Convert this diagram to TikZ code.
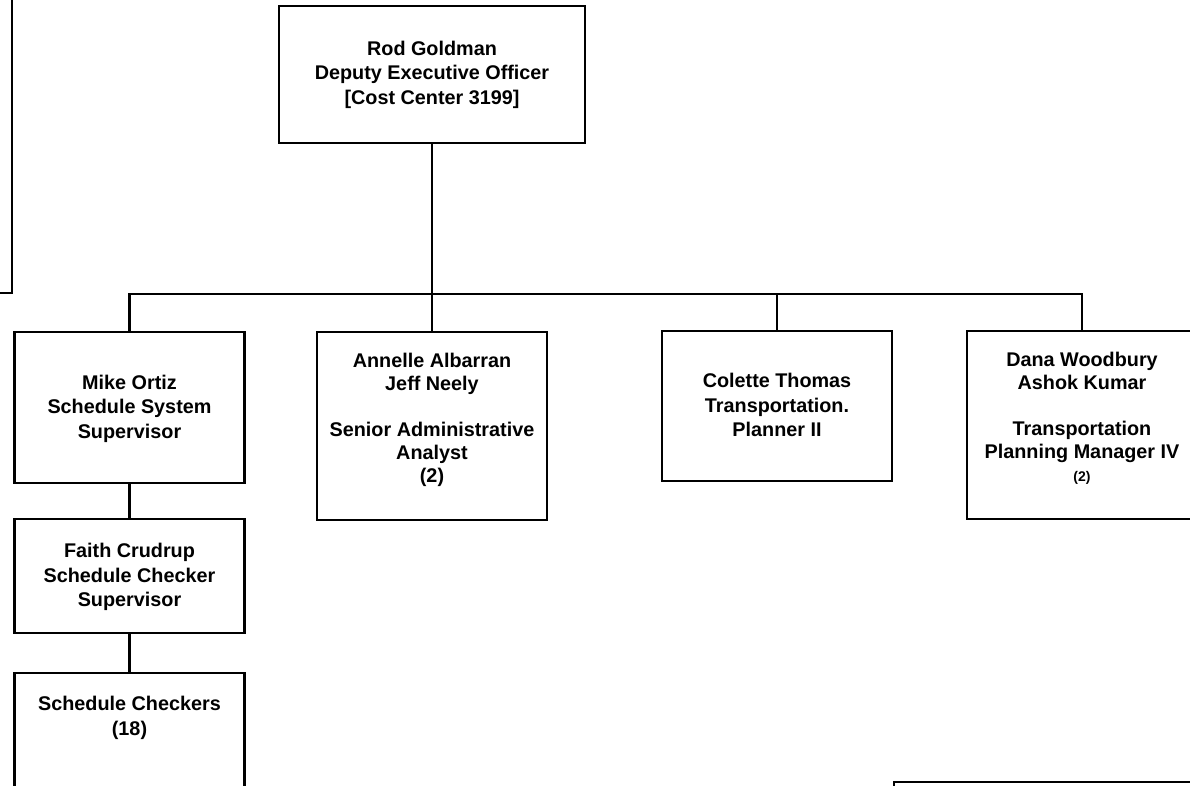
\documentclass[tikz,border=0pt]{standalone}
\usepackage{fontspec}
\setmainfont{Liberation Sans}
\begin{document}
\begin{tikzpicture}[x=1pt,y=-1pt,
  box/.style={draw, line width=2.2pt, minimum width=230pt, inner sep=0pt},
  lbl/.style={font=\fontsize{19.8}{24.5}\selectfont\bfseries, align=center, inner sep=0pt},
  lbltight/.style={font=\fontsize{19.8}{23}\selectfont\bfseries, align=center, inner sep=0pt},
  conn/.style={line width=2.2pt}]
\useasboundingbox (0,0) rectangle (1190,786);
\clip (0,0) rectangle (1190,786);

% boxes
\node[box, minimum width=306pt, minimum height=137pt] (top) at (432,74.5) {};
\node[box, minimum height=151pt] (mike) at (129.5,407.5) {};
\node[box, minimum height=188pt] (annelle) at (432,426) {};
\node[box, minimum height=150pt] (colette) at (777,406) {};
\node[box, minimum height=188pt] (dana) at (1082,425) {};
\node[box, minimum height=114pt] (faith) at (129.5,576) {};
\node[box, minimum height=200pt, anchor=north] (chk) at (129.5,672) {};

% texts
\node[lbl] (topT) at (top.center) {Rod Goldman\\Deputy Executive Officer\\{[}Cost Center 3199{]}};
\node[lbl] (mikeT) at (129.5,408.5) {Mike Ortiz\\Schedule System\\Supervisor};
\node[lbl] (faithT) at (129.5,577) {Faith Crudrup\\Schedule Checker\\Supervisor};
\node[lbl] (chkT) at (129.5,718) {Schedule Checkers\\(18)};
\node[lbltight] (annelleT) at (432,420) {Annelle Albarran\\Jeff Neely\\[23pt]Senior Administrative\\Analyst\\(2)};
\node[lbl] (coletteT) at (777,405) {Colette Thomas\\Transportation.\\Planner II};
\node[lbltight] (danaT) at (1082,418) {Dana Woodbury\\Ashok Kumar\\[23pt]Transportation\\Planning Manager IV\\{\fontsize{14}{23}\selectfont (2)}};

% connectors
\coordinate (bus) at (0,294);
\draw[conn] (top.south) -- (top.south |- bus);
\draw[conn] (mike.north) -- (mike.north |- bus) -- (dana.north |- bus) -- (dana.north);
\draw[conn] (annelle.north) -- (annelle.north |- bus);
\draw[conn] (colette.north) -- (colette.north |- bus);
\draw[conn] (mike.south) -- (faith.north);
\draw[conn] (faith.south) -- (chk.north);

% fragments of boxes cut by the page edge
\coordinate (fragA1) at (12,-5);
\coordinate (fragA2) at (12,293);
\coordinate (fragA3) at (-5,293);
\draw[conn] (fragA1) -- (fragA2) -- (fragA3);
\coordinate (fragB1) at (894,795);
\coordinate (fragB2) at (894,782);
\coordinate (fragB3) at (1195,782);
\draw[conn] (fragB1) -- (fragB2) -- (fragB3);
\end{tikzpicture}
\end{document}
